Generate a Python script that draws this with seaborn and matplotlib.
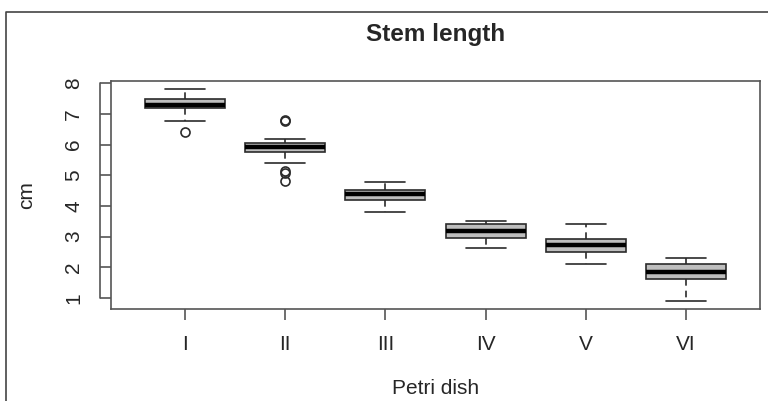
import numpy as np
import pandas as pd
import matplotlib
matplotlib.use("Agg")
import matplotlib.pyplot as plt
import matplotlib.transforms as mtransforms
from matplotlib.lines import Line2D
import seaborn as sns

#%% data (stem length per dish, cm)

dishes = ["I", "II", "III", "IV", "V", "VI"]

dish_I = [6.40, 6.78, 7.18, 7.22, 7.29, 7.35, 7.48, 7.62, 7.80]
dish_II = [4.81, 5.06, 5.15, 5.39, 5.76, 5.80, 5.85, 5.88, 5.91,
           5.95, 5.98, 6.01, 6.04, 6.10, 6.19, 6.76, 6.80]
dish_III = [3.79, 4.00, 4.19, 4.30, 4.39, 4.45, 4.52, 4.65, 4.79]
dish_IV = [2.62, 2.80, 2.95, 3.10, 3.19, 3.30, 3.40, 3.45, 3.51]
dish_V = [2.11, 2.30, 2.51, 2.60, 2.71, 2.80, 2.91, 3.10, 3.40]
dish_VI = [0.91, 1.30, 1.62, 1.70, 1.83, 1.95, 2.10, 2.20, 2.31]

valores = [dish_I, dish_II, dish_III, dish_IV, dish_V, dish_VI]

df = pd.DataFrame({
    "dish": np.repeat(dishes, [len(v) for v in valores]),
    "cm": np.concatenate(valores),
})

#%% plot

sns.set_style("ticks")
plt.rcParams["font.family"] = ["Liberation Sans", "DejaVu Sans"]

linea = "#2b2b2b"
gris = "#555555"

fig = plt.figure(figsize=(7.68, 4.01), dpi=100)
ax = fig.add_axes([111/768, 1 - 309/401, 649/768, 228/401])

sns.boxplot(ax=ax, data=df, x="dish", y="cm", order=dishes, width=0.8,
            color="#bebebe", saturation=1, linecolor=linea, linewidth=1.2,
            whiskerprops={"linestyle": (0, (4, 3))},
            medianprops={"linewidth": 3.2, "color": "black"},
            flierprops={"marker": "o", "markerfacecolor": "none",
                        "markeredgecolor": linea, "markersize": 6.5,
                        "markeredgewidth": 1.2})

ax.set_xlim(-0.74, 5.74)
ax.set_ylim(0.634, 8.076)
ax.set_yticks(range(1, 9))

for s in ax.spines.values():
    s.set_visible(True)
    s.set_color(gris)
    s.set_linewidth(1.2)

ax.tick_params(axis="both", direction="out", length=8, width=1.2,
               color=gris, labelsize=15)
ax.tick_params(axis="x", pad=11)
ax.tick_params(axis="y", pad=12, labelrotation=90)
for lab in ax.get_yticklabels():
    lab.set_va("center")

# eje y separado del recuadro (estilo R)
tr = mtransforms.blended_transform_factory(
    mtransforms.offset_copy(ax.transAxes, fig=fig, x=-11, units="dots"),
    ax.transData)
ax.add_line(Line2D([0, 0], [1, 8], transform=tr, color=gris, lw=1.2,
                   clip_on=False))

ax.set_xlabel("Petri dish", fontsize=15)
ax.set_ylabel("cm", fontsize=15)
ax.xaxis.set_label_coords(0.5, (309 - 388) / 228)
ax.yaxis.set_label_coords((27 - 111) / 649, 0.5)
ax.xaxis.label.set_va("center")
ax.yaxis.label.set_va("center")

ax.set_title("Stem length", fontsize=17.5, weight="bold",
             y=1 + (81 - 35) / 228, va="center", pad=0)

# marco exterior
fig.add_artist(Line2D([6/768, 6/768, 1.01], [-0.01, 1 - 12/401, 1 - 12/401],
                      transform=fig.transFigure, color="#444444", lw=1.2))

fig.savefig("out.png", dpi=100)
